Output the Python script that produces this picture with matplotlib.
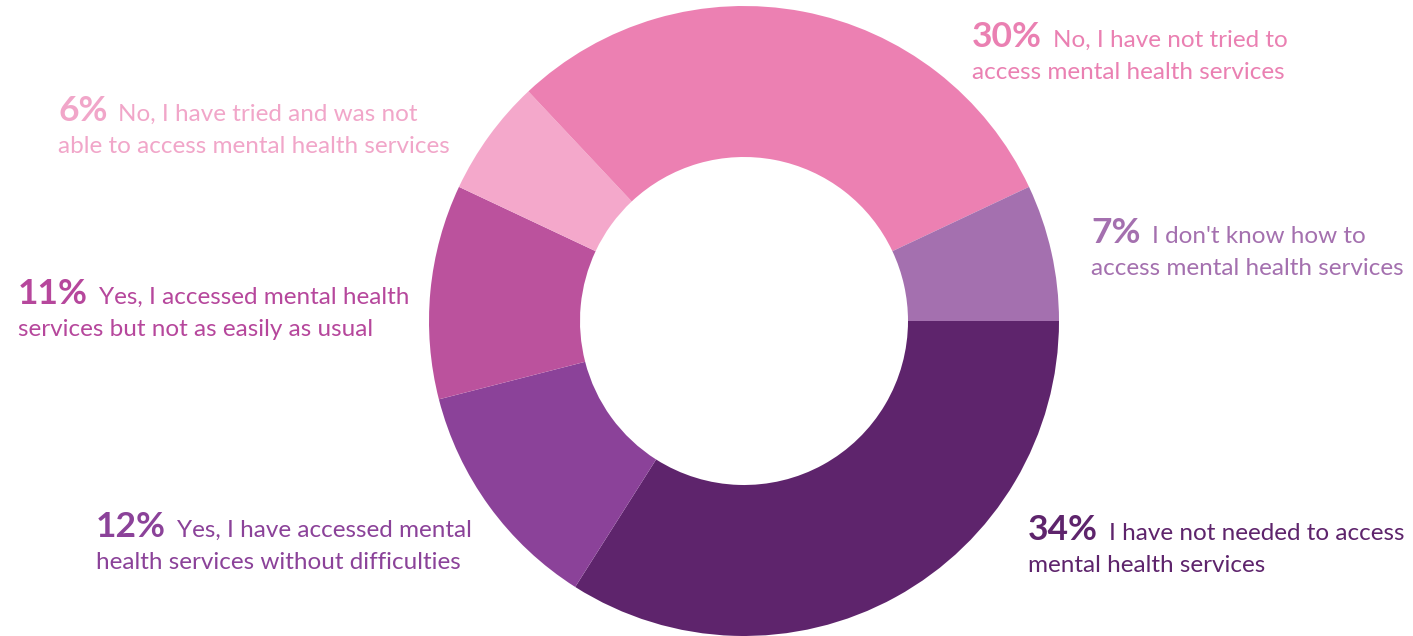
import matplotlib
matplotlib.use("Agg")
from matplotlib import pyplot as plt

W, H = 1413, 636

# slices, clockwise from 3 o'clock
values = [34, 12, 11, 6, 30, 7]
line1 = ["I have not needed to access",
         "Yes, I have accessed mental",
         "Yes, I accessed mental health",
         "No, I have tried and was not",
         "No, I have not tried to",
         "I don't know how to"]
line2 = ["mental health services",
         "health services without difficulties",
         "services but not as easily as usual",
         "able to access mental health services",
         "access mental health services",
         "access mental health services"]
wedge_colors = ["#5e246c", "#8b4299", "#bb529d", "#f4a8cb", "#ec80b2", "#a470af"]
text_colors = ["#5e246c", "#8b4299", "#b6479c", "#f1a6c9", "#ea80b2", "#a470af"]

# label anchor (left x, first baseline) in pixels from top-left
label_pos = [(1028, 540), (96, 537), (18, 304), (58, 121), (972, 47), (1091, 243)]
line_gap = 32

plt.rcParams["font.family"] = ["Lato", "DejaVu Sans"]
fig = plt.figure(figsize=(W / 100, H / 100), dpi=100)
ax = fig.add_axes([0, 0, 1, 1])
ax.set_xlim(0, W)
ax.set_ylim(0, H)
ax.set_aspect("equal")
ax.axis("off")

ax.pie(values, colors=wedge_colors, startangle=0, counterclock=False,
       center=(744, H - 321), radius=315, frame=True,
       wedgeprops=dict(width=315 - 164, linewidth=0))
ax.set_xlim(0, W)
ax.set_ylim(0, H)
ax.axis("off")

renderer = fig.canvas.get_renderer()
for v, t1, t2, c, (x, y) in zip(values, line1, line2, text_colors, label_pos):
    pct = ax.text(x, H - y, f"{v}%", color=c, fontsize=25.5, fontweight="bold",
                  ha="left", va="baseline")
    bb = pct.get_window_extent(renderer=renderer)
    x2 = ax.transData.inverted().transform((bb.x1, 0))[0] + 11
    ax.text(x2, H - y, t1, color=c, fontsize=17.5, ha="left", va="baseline")
    ax.text(x, H - y - line_gap, t2, color=c, fontsize=17.5, ha="left", va="baseline")

fig.savefig("out.png", dpi=100, facecolor="white")
